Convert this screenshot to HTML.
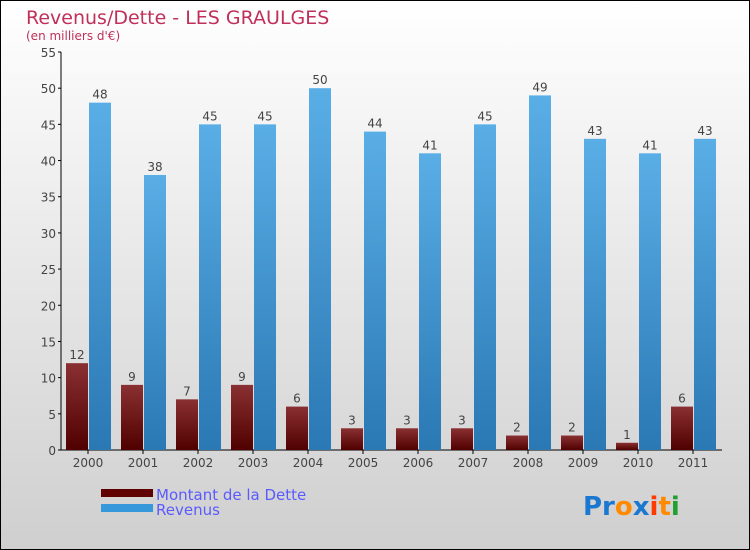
<!DOCTYPE html>
<html><head><meta charset="utf-8"><style>
body{margin:0}
#c{width:750px;height:550px;position:relative;box-sizing:border-box;border:1px solid #000;background:linear-gradient(#ffffff,#cfcfcf);font-family:"DejaVu Sans","Liberation Sans",sans-serif;overflow:hidden}
</style></head><body>
<div id="c">
<svg width="748" height="548" style="position:absolute;left:0;top:0">
<defs>
<linearGradient id="gd" x1="0" y1="0" x2="0" y2="1"><stop offset="0" stop-color="#8a3032"/><stop offset="1" stop-color="#500000"/></linearGradient>
<linearGradient id="gr" x1="0" y1="0" x2="0" y2="1"><stop offset="0" stop-color="#5aaee6"/><stop offset="1" stop-color="#2a78b4"/></linearGradient>
</defs>
<text x="25" y="23" font-size="19" fill="#c0305a">Revenus/Dette - LES GRAULGES</text>
<text x="25" y="39" font-size="12" fill="#c0305a">(en milliers d'€)</text>
<g id="axes"></g><g id="bars"></g>
<rect x="100" y="488" width="52" height="8" fill="#600000"/>
<rect x="100" y="503" width="52" height="8" fill="#3498db"/>
<text x="155" y="499" font-size="15" fill="#5a5aff">Montant de la Dette</text>
<text x="155" y="514" font-size="15" fill="#5a5aff">Revenus</text>
<text x="582" y="514" font-size="26" font-weight="bold"><tspan fill="#1a78d0">Pr</tspan><tspan fill="#ff8a00">o</tspan><tspan fill="#1a78d0">x</tspan><tspan fill="#ff3a00">i</tspan><tspan fill="#ff8a00">t</tspan><tspan fill="#20a030">i</tspan></text>
</svg></div>
<script>
const years=["2000","2001","2002","2003","2004","2005","2006","2007","2008","2009","2010","2011"];
const dette=[12,9,7,9,6,3,3,3,2,2,1,6];
const revenus=[48,38,45,45,50,44,41,45,49,43,41,43];
const ticks=[0,5,10,15,20,25,30,35,40,45,50,55];
const NS="http://www.w3.org/2000/svg";
const y0=449,k=398/55,x0=87,step=55,bw=22;
const yS=v=>y0-v*k, xS=i=>x0+i*step;
function mk(t,a,p){const e=document.createElementNS(NS,t);for(const q in a)e.setAttribute(q,a[q]);p.appendChild(e);return e;}
const ax=document.getElementById('axes'),bars=document.getElementById('bars');
let l=mk('line',{x1:60,y1:yS(55),x2:60,y2:y0,stroke:'#000'},ax);


l=mk('line',{x1:60,y1:y0,x2:721,y2:y0,stroke:'#000'},ax);


ticks.forEach(t=>{
 mk('line',{x1:57,x2:60,y1:yS(t),y2:yS(t),stroke:'#000'},ax);
 const e=mk('text',{x:55,y:yS(t)+5,'font-size':12,fill:'#444','text-anchor':'end'},ax);e.textContent=t;
 
 
});
years.forEach((y,i)=>{
 const c=xS(i);
 mk('line',{x1:c,x2:c,y1:y0,y2:y0+4,stroke:'#000'},ax);
 const e=mk('text',{x:c,y:y0+17,'font-size':12,fill:'#444','text-anchor':'middle'},ax);e.textContent=y;
 
 
 const d=mk('rect',{x:c-bw,y:yS(dette[i]),width:bw,height:dette[i]*k,fill:'url(#gd)'},bars);
 
 
 const r=mk('rect',{x:c+1,y:yS(revenus[i]),width:bw,height:revenus[i]*k,fill:'url(#gr)'},bars);
 
 
 let t=mk('text',{x:c-bw/2,y:yS(dette[i])-4,'font-size':12,fill:'#444','text-anchor':'middle'},bars);t.textContent=dette[i];
 
 
 t=mk('text',{x:c+1+bw/2,y:yS(revenus[i])-4,'font-size':12,fill:'#444','text-anchor':'middle'},bars);t.textContent=revenus[i];
 
 
});
</script>
</body></html>
